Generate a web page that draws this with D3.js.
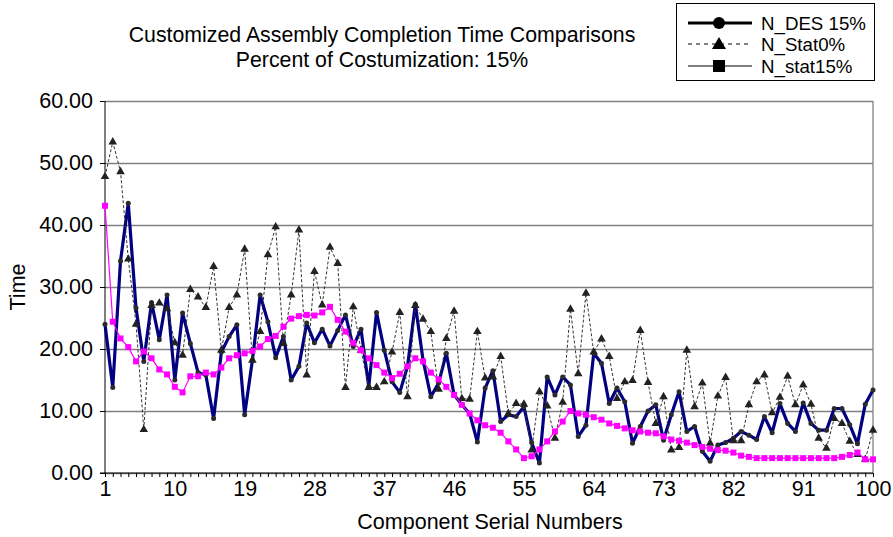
<!DOCTYPE html>
<html>
<head>
<meta charset="utf-8">
<script src="https://cdn.jsdelivr.net/npm/d3@7"></script>
<style>
  body { margin: 0; background: #fff; }
  text { font-family: "Liberation Sans", Arial, sans-serif; fill: #000; }
</style>
</head>
<body>
<svg id="chart" width="893" height="537"></svg>
<script>
/* DATA */

const titleLines = ["Customized Assembly Completion Time Comparisons", "Percent of Costumization: 15%"];
const seriesNames = ["N_DES 15%", "N_Stat0%", "N_stat15%"];

const serials = d3.range(1, 101);

const nDes = [
  24.0, 13.8, 34.2, 43.5, 26.6, 18.0, 27.5, 21.5, 28.7, 15.0,
  25.8, 20.9, 16.2, 15.8, 8.8, 19.5, 22.0, 23.9, 9.4, 18.2,
  28.7, 24.4, 18.6, 22.0, 15.0, 17.2, 24.2, 21.0, 23.2, 20.5,
  23.0, 25.5, 20.4, 23.2, 13.9, 25.9, 19.8, 14.7, 13.0, 17.2,
  27.2, 18.2, 12.3, 14.5, 19.3, 12.6, 11.0, 9.6, 5.0, 13.7,
  16.5, 8.3, 9.4, 9.1, 10.7, 4.9, 1.6, 15.5, 12.6, 15.5,
  14.2, 5.9, 7.7, 19.3, 17.7, 11.2, 13.7, 11.5, 4.8, 7.5,
  10.0, 11.0, 5.3, 9.4, 13.1, 6.7, 7.5, 3.5, 1.9, 4.5,
  4.9, 5.6, 6.7, 6.1, 5.4, 9.1, 6.5, 11.2, 8.0, 6.7,
  11.3, 8.0, 6.9, 6.9, 10.4, 10.4, 7.8, 4.7, 11.1, 13.4
];

const nStat0 = [
  47.8, 53.4, 48.6, 34.5, 24.0, 7.0, 27.0, 27.4, 26.5, 21.0,
  19.0, 29.6, 28.4, 26.7, 33.3, 19.8, 26.7, 28.7, 36.1, 18.2,
  22.8, 35.2, 39.7, 20.9, 28.7, 39.2, 15.8, 32.5, 27.1, 36.4,
  33.8, 13.8, 26.8, 19.8, 13.8, 13.8, 14.7, 19.5, 25.9, 12.3,
  27.0, 24.8, 22.8, 13.5, 21.7, 26.1, 12.0, 11.9, 22.8, 15.3,
  15.5, 18.8, 9.6, 11.2, 11.1, 3.7, 13.1, 10.8, 5.6, 11.4,
  26.4, 16.0, 29.0, 19.5, 21.6, 18.8, 12.0, 14.7, 14.9, 23.0,
  14.6, 8.0, 12.3, 3.7, 4.1, 19.8, 10.7, 14.5, 4.8, 12.4,
  15.4, 5.2, 5.2, 11.0, 14.7, 15.8, 9.7, 12.2, 15.6, 11.0,
  14.2, 11.1, 5.6, 4.0, 8.8, 8.0, 5.1, 3.0, 2.2, 6.9
];

const nStat15 = [
  43.1, 24.4, 21.7, 20.3, 18.0, 19.6, 18.5, 16.7, 15.9, 13.9,
  13.0, 15.6, 15.6, 16.2, 15.9, 17.0, 18.5, 19.0, 19.3, 19.7,
  20.4, 21.6, 22.1, 23.6, 24.9, 25.3, 25.5, 25.4, 25.9, 26.8,
  24.7, 22.8, 21.0, 19.8, 18.5, 17.4, 16.2, 15.3, 16.0, 17.2,
  18.5, 18.0, 16.2, 15.1, 13.9, 12.6, 11.0, 9.6, 8.5, 7.7,
  7.3, 6.5, 5.1, 3.8, 2.4, 2.7, 3.8, 5.1, 6.7, 8.3,
  10.0, 9.6, 9.4, 9.0, 8.6, 8.0, 7.6, 7.2, 6.9, 6.7,
  6.5, 6.4, 5.9, 5.4, 5.2, 4.9, 4.5, 4.2, 3.9, 3.7,
  3.6, 3.3, 2.8, 2.6, 2.4, 2.4, 2.4, 2.4, 2.4, 2.4,
  2.4, 2.4, 2.4, 2.4, 2.4, 2.6, 2.9, 3.3, 2.2, 2.2
];

const xTickLabels = [1, 10, 19, 28, 37, 46, 55, 64, 73, 82, 91, 100];
const yTicks = [0, 10, 20, 30, 40, 50, 60];

/* LAYOUT */

const margin = { left: 105, right: 20, top: 101, bottom: 64 };
const width = 893, height = 537;
const plotWidth = 873 - margin.left;
const plotHeight = 473 - margin.top;

const svg = d3.select("svg#chart");
const plotArea = svg.append("g")
  .attr("transform", "translate(" + margin.left + "," + margin.top + ")");

/* SCALES */

const xScale = d3.scaleLinear().domain([1, 100]).range([0, plotWidth]);
const yScale = d3.scaleLinear().domain([0, 60]).range([plotHeight, 0]);

/* GRID */

const gridAxis = d3.axisLeft(yScale).tickValues(yTicks).tickSize(-plotWidth).tickFormat("");
plotArea.append("g").attr("class", "grid").call(gridAxis)
  .call(g => g.select(".domain").remove())
  .call(g => g.selectAll("line").attr("stroke", "#808080").attr("stroke-width", 1.3));

// right border of the plot
plotArea.append("line")
  .attr("x1", plotWidth).attr("x2", plotWidth)
  .attr("y1", 0).attr("y2", plotHeight)
  .attr("stroke", "#808080").attr("stroke-width", 1.3);

/* AXES */

const yAxis = d3.axisLeft(yScale).tickValues(yTicks).tickFormat(d3.format(".2f")).tickSize(5).tickPadding(7);
const yGroup = plotArea.append("g").call(yAxis);
yGroup.selectAll("text").style("font-size", "21.5px");
yGroup.selectAll("line").attr("stroke", "#000");
yGroup.select(".domain").attr("stroke", "#000").attr("d", "M0," + plotHeight + "V0");

const xAxis = d3.axisBottom(xScale).tickValues(serials).tickSize(4).tickFormat(d => xTickLabels.includes(d) ? d : "").tickPadding(4);
const xGroup = plotArea.append("g").attr("transform", "translate(0," + plotHeight + ")").call(xAxis);
xGroup.selectAll("text").style("font-size", "21.5px");
xGroup.selectAll("line").attr("stroke", "#000");
xGroup.select(".domain").attr("stroke", "#000").attr("d", "M-5,0H" + plotWidth);

/* SERIES */

const line = d3.line().x((d, i) => xScale(serials[i])).y(d => yScale(d));

// N_DES 15%
plotArea.append("path").datum(nDes)
  .attr("d", line).attr("fill", "none")
  .attr("stroke", "#000080").attr("stroke-width", 3.2).attr("stroke-linejoin", "round");
plotArea.append("g").selectAll("circle").data(nDes).join("circle")
  .attr("cx", (d, i) => xScale(serials[i])).attr("cy", d => yScale(d))
  .attr("r", 2.5).attr("fill", "#2b2b2b");

// N_Stat0%
plotArea.append("path").datum(nStat0)
  .attr("d", line).attr("fill", "none")
  .attr("stroke", "#333").attr("stroke-width", 1).attr("stroke-dasharray", "3,2");
const tri = d3.symbol().type(d3.symbolTriangle).size(32);
plotArea.append("g").selectAll("path").data(nStat0).join("path")
  .attr("d", tri)
  .attr("transform", (d, i) => "translate(" + xScale(serials[i]) + "," + yScale(d) + ")")
  .attr("fill", "#222");

// N_stat15%
plotArea.append("path").datum(nStat15)
  .attr("d", line).attr("fill", "none")
  .attr("stroke", "#ff00ff").attr("stroke-width", 1.2);
plotArea.append("g").selectAll("rect").data(nStat15).join("rect")
  .attr("x", (d, i) => xScale(serials[i]) - 3).attr("y", d => yScale(d) - 3)
  .attr("width", 6).attr("height", 6).attr("fill", "#ff00ff");

/* TITLES */

svg.append("text").attr("x", 382).attr("y", 42).attr("text-anchor", "middle")
  .style("font-size", "21.3px").text(titleLines[0]);
svg.append("text").attr("x", 382).attr("y", 67).attr("text-anchor", "middle")
  .style("font-size", "21.3px").text(titleLines[1]);

svg.append("text").attr("x", 490).attr("y", 529).attr("text-anchor", "middle")
  .style("font-size", "21.5px").text("Component Serial Numbers");

svg.append("text").attr("transform", "translate(25,287) rotate(-90)")
  .attr("text-anchor", "middle").style("font-size", "21.5px").text("Time");

/* LEGEND */

const legend = svg.append("g");
legend.append("rect").attr("x", 676.5).attr("y", 3.5).attr("width", 198).attr("height", 77)
  .attr("fill", "#fff").attr("stroke", "#000").attr("stroke-width", 1);

const rowY = [23, 44, 66];
const rowStyle = [
  { w: 3, dash: null },
  { w: 1, dash: "4,4" },
  { w: 1, dash: null }
];
seriesNames.forEach((name, k) => {
  legend.append("line").attr("x1", 688).attr("x2", 752).attr("y1", rowY[k]).attr("y2", rowY[k])
    .attr("stroke", "#000").attr("stroke-width", rowStyle[k].w)
    .attr("stroke-dasharray", rowStyle[k].dash);
  legend.append("text").attr("x", 761).attr("y", rowY[k] + 6.5)
    .style("font-size", "18.7px").text(name);
});
legend.append("circle").attr("cx", 719).attr("cy", rowY[0]).attr("r", 6).attr("fill", "#000");
legend.append("path").attr("d", d3.symbol().type(d3.symbolTriangle).size(85))
  .attr("transform", "translate(719," + (rowY[1] + 1) + ")").attr("fill", "#000");
legend.append("rect").attr("x", 713).attr("y", rowY[2] - 6).attr("width", 12).attr("height", 12).attr("fill", "#000");
</script>
</body>
</html>
